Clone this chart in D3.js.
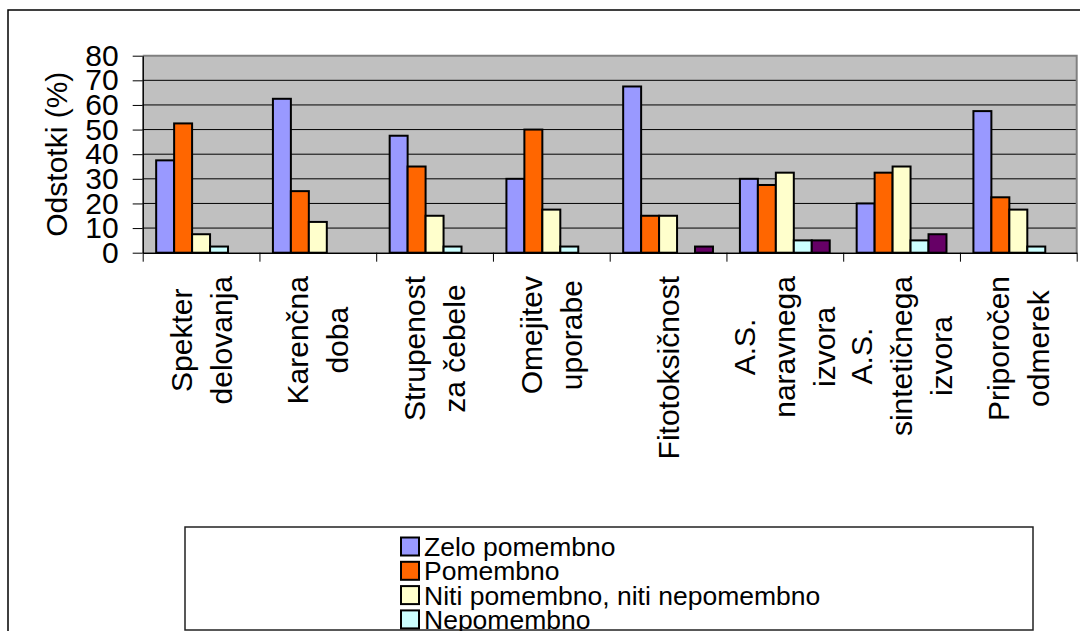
<!DOCTYPE html>
<html>
<head>
<meta charset="utf-8">
<script src="https://cdn.jsdelivr.net/npm/d3@7"></script>
<style>
  html, body { margin: 0; padding: 0; background: #fff; }
  svg { display: block; font-family: "Liberation Sans", Arial, sans-serif; }
</style>
</head>
<body>
<svg id="chart" width="1080" height="631"></svg>
<script>
// Categories (line breaks mark wrapped label lines)
const categories = [
  "Spekter\ndelovanja",
  "Karenčna\ndoba",
  "Strupenost\nza čebele",
  "Omejitev\nuporabe",
  "Fitotoksičnost",
  "A.S.\nnaravnega\nizvora",
  "A.S.\nsintetičnega\nizvora",
  "Priporočen\nodmerek"
];

// Series names and colours
const seriesNames = [
  "Zelo pomembno",
  "Pomembno",
  "Niti pomembno, niti nepomembno",
  "Nepomembno",
  "Sploh ni pomembno"
];
const seriesColors = ["#9999FF", "#FF6600", "#FFFFCC", "#CCFFFF", "#660066"];

// Percentages per category
const zeloPomembno = [37.5, 62.5, 47.5, 30, 67.5, 30, 20, 57.5];
const pomembno     = [52.5, 25, 35, 50, 15, 27.5, 32.5, 22.5];
const nitiNiti     = [7.5, 12.5, 15, 17.5, 15, 32.5, 35, 17.5];
const nepomembno   = [2.5, 0, 2.5, 2.5, 0, 5, 5, 2.5];
const splohNi      = [0, 0, 0, 0, 2.5, 5, 7.5, 0];

const yTicks = [0, 10, 20, 30, 40, 50, 60, 70, 80];
const yTitle = "Odstotki (%)";

const seriesValues = [zeloPomembno, pomembno, nitiNiti, nepomembno, splohNi];

const svg = d3.select("#chart");

// Outer chart frame
svg.append("rect")
  .attr("x", 8).attr("y", 10)
  .attr("width", 1200).attr("height", 800)
  .attr("fill", "#fff").attr("stroke", "#000").attr("stroke-width", 1.5);

const plot = { left: 142.7, right: 1076.7, top: 55.7, bottom: 252.7 };

const x = d3.scaleBand()
  .domain(d3.range(categories.length))
  .range([plot.left, plot.right])
  .paddingInner(0).paddingOuter(0);

const bw = x.bandwidth();
const barW = bw / 6.5;
const xSub = d3.scaleBand()
  .domain(d3.range(seriesNames.length))
  .range([barW * 0.75, bw - barW * 0.75]);

const y = d3.scaleLinear().domain([0, 80]).range([plot.bottom, plot.top]);

// Plot background
svg.append("rect")
  .attr("x", plot.left).attr("y", plot.top)
  .attr("width", plot.right - plot.left).attr("height", plot.bottom - plot.top)
  .attr("fill", "#C0C0C0");

// Gridlines
svg.append("g")
  .selectAll("line")
  .data(yTicks.filter(t => t > 0 && t < 80))
  .join("line")
  .attr("x1", plot.left).attr("x2", plot.right)
  .attr("y1", d => y(d)).attr("y2", d => y(d))
  .attr("stroke", "#000").attr("stroke-width", 1);

// Plot border (top and right)
svg.append("path")
  .attr("d", `M${plot.left},${y(80)}H${plot.right}V${plot.bottom}`)
  .attr("fill", "none").attr("stroke", "#808080").attr("stroke-width", 2);

// Bars
const groups = svg.append("g")
  .selectAll("g")
  .data(categories.map((c, i) => i))
  .join("g")
  .attr("transform", i => `translate(${x(i)},0)`);

groups.selectAll("rect")
  .data(i => seriesValues.map((vals, s) => ({ s, v: vals[i] })).filter(d => d.v > 0))
  .join("rect")
  .attr("x", d => xSub(d.s))
  .attr("width", xSub.bandwidth())
  .attr("y", d => y(d.v))
  .attr("height", d => y(0) - y(d.v))
  .attr("fill", d => seriesColors[d.s])
  .attr("stroke", "#000").attr("stroke-width", 2);

// Y axis
const yAxis = svg.append("g")
  .attr("transform", `translate(${plot.left},0)`)
  .call(d3.axisLeft(y).tickValues(yTicks).tickSize(10).tickSizeOuter(0).tickPadding(14));
yAxis.select(".domain").attr("stroke", "#000").attr("stroke-width", 1.5);
yAxis.selectAll(".tick line").attr("stroke", "#000").attr("stroke-width", 1);
yAxis.selectAll(".tick text")
  .attr("font-family", "Liberation Sans, Arial, sans-serif")
  .attr("font-size", 30).attr("fill", "#000");

// X axis (category boundary ticks)
const xb = d3.scaleLinear().domain([0, categories.length]).range([plot.left, plot.right]);
const xAxis = svg.append("g")
  .attr("transform", `translate(0,${plot.bottom})`)
  .call(d3.axisBottom(xb).tickValues(d3.range(categories.length + 1)).tickFormat("").tickSize(9).tickSizeOuter(0));
xAxis.select(".domain").attr("stroke", "#000").attr("stroke-width", 1.5);
xAxis.selectAll(".tick line").attr("stroke", "#000").attr("stroke-width", 1);

// Category labels, rotated, lines centred on each other, block ending near the axis
const labelTop = 276;
const lineStep = 40;
categories.forEach((c, i) => {
  const lines = c.split("\n");
  const cx = x(i) + bw / 2;
  const g = svg.append("g");
  const texts = lines.map((ln, k) => g.append("text")
    .attr("font-size", 30)
    .attr("text-anchor", "middle")
    .attr("dy", "0.35em")
    .text(ln));
  const maxLen = d3.max(texts, t => t.node().getComputedTextLength());
  const cy = labelTop + maxLen / 2;
  texts.forEach((t, k) => {
    const off = (k - (lines.length - 1) / 2) * lineStep;
    t.attr("transform", `translate(${cx + off},${cy}) rotate(-90)`);
  });
});

// Y axis title
svg.append("text")
  .attr("transform", `translate(56,${(plot.top + plot.bottom) / 2}) rotate(-90)`)
  .attr("text-anchor", "middle")
  .attr("dy", "0.35em")
  .attr("font-size", 30)
  .text(yTitle);

// Legend: entries that do not fit inside the box are left out
const legend = { x: 185, y: 527, w: 848, h: 103 };
svg.append("rect")
  .attr("x", legend.x).attr("y", legend.y)
  .attr("width", legend.w).attr("height", legend.h)
  .attr("fill", "#fff").attr("stroke", "#222").attr("stroke-width", 1.5);

const rowStart = 546.5;
const rowStep = 24.3;
const fitting = seriesNames
  .map((n, i) => ({ n, i, cy: rowStart + i * rowStep }))
  .filter(d => d.cy + 9 <= legend.y + legend.h);

const item = svg.append("g")
  .selectAll("g")
  .data(fitting)
  .join("g")
  .attr("transform", d => `translate(401,${d.cy})`);
item.append("rect")
  .attr("x", 0).attr("y", -9).attr("width", 18).attr("height", 18)
  .attr("fill", d => seriesColors[d.i])
  .attr("stroke", "#000").attr("stroke-width", 2);
item.append("text")
  .attr("x", 23).attr("dy", "0.36em")
  .attr("font-size", 26.5)
  .text(d => d.n);
</script>
</body>
</html>
